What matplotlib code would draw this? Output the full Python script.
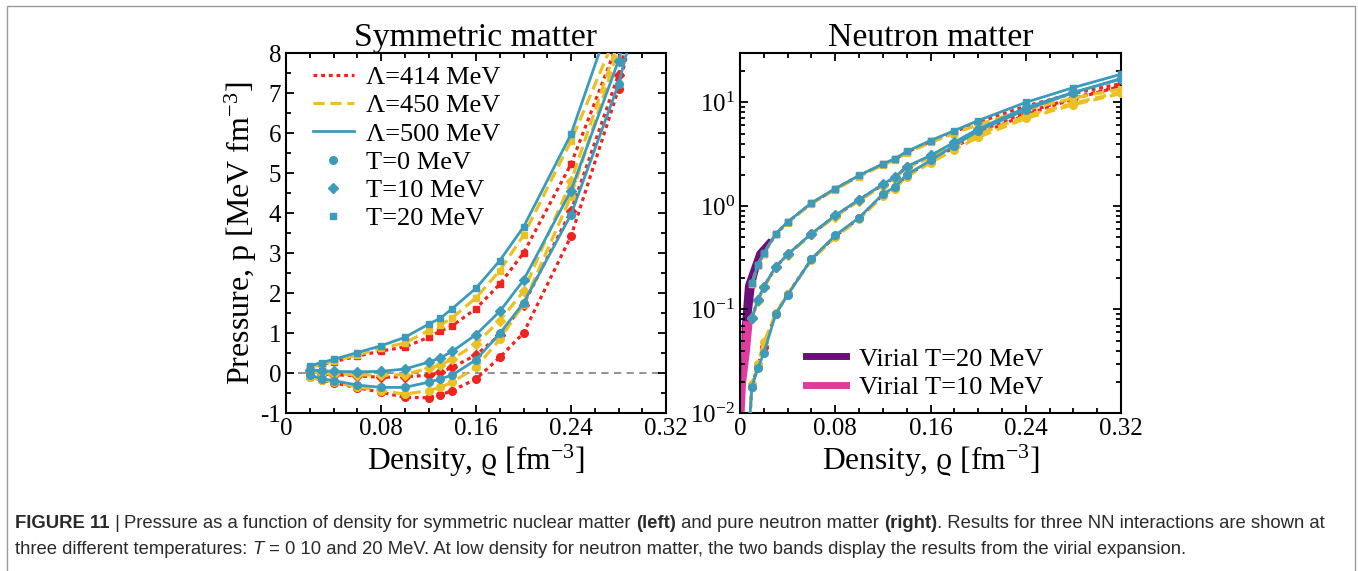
import matplotlib
matplotlib.use("Agg")
import matplotlib.pyplot as plt
from matplotlib.lines import Line2D
from matplotlib.patches import Rectangle
from matplotlib.ticker import MultipleLocator, LogLocator, NullFormatter
from matplotlib.transforms import IdentityTransform

# ---- symmetric matter: pressure [MeV fm^-3] vs density [fm^-3] ----
snm_rho = [0.02, 0.03, 0.04, 0.06, 0.08, 0.10, 0.12, 0.13, 0.14, 0.16, 0.18, 0.20, 0.24, 0.28, 0.30]
snm_t0_414 = [-0.10, -0.18, -0.24, -0.37, -0.48, -0.61, -0.62, -0.55, -0.44, -0.15, 0.39, 1.00, 3.42, 7.10, 9.6]
snm_t0_450 = [-0.10, -0.17, -0.22, -0.35, -0.44, -0.53, -0.44, -0.36, -0.23, 0.14, 0.84, 1.72, 4.42, 8.10, 10.4]
snm_t0_500 = [-0.05, -0.14, -0.19, -0.30, -0.36, -0.36, -0.23, -0.15, -0.05, 0.33, 0.99, 1.75, 3.96, 7.22, 9.5]
snm_t10_414 = [0.03, -0.02, -0.04, -0.07, -0.11, -0.09, -0.06, 0.02, 0.14, 0.45, 0.95, 1.71, 4.05, 7.46, 9.8]
snm_t10_450 = [0.04, 0.00, -0.02, -0.04, -0.06, -0.04, 0.12, 0.20, 0.35, 0.73, 1.31, 2.04, 4.79, 8.30, 10.6]
snm_t10_500 = [0.08, 0.06, 0.04, 0.03, 0.04, 0.10, 0.27, 0.38, 0.54, 0.96, 1.54, 2.32, 4.56, 7.81, 10.2]
snm_t20_414 = [0.13, 0.21, 0.28, 0.42, 0.55, 0.65, 0.89, 1.05, 1.18, 1.61, 2.22, 3.00, 5.22, 8.3, 10.8]
snm_t20_450 = [0.14, 0.22, 0.30, 0.45, 0.62, 0.75, 1.06, 1.20, 1.38, 1.88, 2.56, 3.44, 5.80, 8.6, 11.3]
snm_t20_500 = [0.18, 0.26, 0.34, 0.51, 0.68, 0.89, 1.22, 1.37, 1.61, 2.12, 2.81, 3.65, 5.97, 9.4, 12.0]

# ---- neutron matter ----
pnm_rho = [0.01, 0.015, 0.02, 0.03, 0.04, 0.06, 0.08, 0.10, 0.12, 0.13, 0.14, 0.16, 0.18, 0.20, 0.24, 0.28, 0.32]
pnm_t0_414 = [0.018, 0.029, 0.043, 0.091, 0.14, 0.305, 0.51, 0.76, 1.28, 1.50, 1.97, 2.7, 3.7, 4.9, 7.6, 10.8, 14.3]
pnm_t0_450 = [0.019, 0.030, 0.048, 0.092, 0.14, 0.30, 0.50, 0.74, 1.25, 1.47, 1.92, 2.6, 3.5, 4.6, 7.0, 9.5, 12.2]
pnm_t0_500 = [0.018, 0.027, 0.038, 0.090, 0.138, 0.307, 0.52, 0.77, 1.30, 1.52, 2.00, 2.75, 3.83, 5.30, 8.5, 12.4, 17.0]
pnm_t10_414 = [0.082, 0.123, 0.165, 0.257, 0.34, 0.535, 0.80, 1.14, 1.60, 1.88, 2.38, 3.02, 4.0, 5.2, 8.0, 11.0, 14.5]
pnm_t10_450 = [0.082, 0.122, 0.163, 0.255, 0.335, 0.53, 0.79, 1.12, 1.57, 1.84, 2.32, 2.95, 3.8, 4.9, 7.4, 9.8, 12.6]
pnm_t10_500 = [0.083, 0.124, 0.166, 0.259, 0.34, 0.54, 0.81, 1.15, 1.62, 1.90, 2.40, 3.07, 4.12, 5.54, 8.9, 12.5, 16.8]
pnm_t20_414 = [0.178, 0.269, 0.346, 0.537, 0.695, 1.06, 1.46, 1.95, 2.52, 2.81, 3.30, 4.2, 5.2, 6.4, 9.2, 12.2, 15.2]
pnm_t20_450 = [0.178, 0.268, 0.345, 0.535, 0.69, 1.05, 1.44, 1.92, 2.48, 2.76, 3.24, 4.1, 5.0, 6.1, 8.5, 11.0, 13.5]
pnm_t20_500 = [0.179, 0.27, 0.348, 0.54, 0.70, 1.07, 1.47, 1.97, 2.55, 2.85, 3.36, 4.28, 5.34, 6.67, 10.0, 13.9, 18.7]

# T=0 low-density tail (drops below the axis)
pnm_tail_rho = [0.008]
pnm_tail_p = [0.008]

# virial bands, outline of each band (rho, p)
vir20_rho = [0.0002, 0.0014, 0.0042, 0.014, 0.024, 0.0267, 0.0196, 0.0126, 0.0084, 0.005, 0.003]
vir20_p = [0.008, 0.066, 0.172, 0.36, 0.485, 0.47, 0.36, 0.172, 0.066, 0.025, 0.008]
vir10_rho = [0.0002, 0.0014, 0.0025, 0.0107, 0.0084, 0.005, 0.0034]
vir10_p = [0.008, 0.034, 0.077, 0.077, 0.04, 0.019, 0.008]

lambdas = ["414", "450", "500"]
temps = ["0", "10", "20"]
styles = {"414": dict(color="#EE2420", ls=(0, (1.2, 1.2)), lw=2.3),
          "450": dict(color="#E9C124", ls=(0, (3.5, 1.8)), lw=2.3),
          "500": dict(color="#3C9BBA", ls="-", lw=2.0)}
markers = {"0": ("o", 5.5), "10": ("D", 5.0), "20": ("s", 5.0)}

snm = {("0", "414"): snm_t0_414, ("0", "450"): snm_t0_450, ("0", "500"): snm_t0_500,
       ("10", "414"): snm_t10_414, ("10", "450"): snm_t10_450, ("10", "500"): snm_t10_500,
       ("20", "414"): snm_t20_414, ("20", "450"): snm_t20_450, ("20", "500"): snm_t20_500}
pnm = {("0", "414"): pnm_t0_414, ("0", "450"): pnm_t0_450, ("0", "500"): pnm_t0_500,
       ("10", "414"): pnm_t10_414, ("10", "450"): pnm_t10_450, ("10", "500"): pnm_t10_500,
       ("20", "414"): pnm_t20_414, ("20", "450"): pnm_t20_450, ("20", "500"): pnm_t20_500}

SERIF = ["Liberation Serif", "DejaVu Serif"]
plt.rcParams.update({
    "font.family": SERIF,
    "mathtext.fontset": "custom",
    "mathtext.rm": "Liberation Serif",
    "mathtext.it": "Liberation Serif:italic",
    "mathtext.default": "regular",
    "axes.unicode_minus": False,
    "axes.linewidth": 1.5,
    "xtick.direction": "in", "ytick.direction": "in",
    "xtick.top": True, "ytick.right": True,
    "xtick.major.size": 6, "ytick.major.size": 6,
    "xtick.minor.size": 3.5, "ytick.minor.size": 3.5,
    "xtick.major.width": 1.3, "ytick.major.width": 1.3,
    "xtick.minor.width": 1.3, "ytick.minor.width": 1.3,
    "xtick.labelsize": 18, "ytick.labelsize": 18,
})

fig = plt.figure(figsize=(13.58, 5.71), dpi=100)
axL = fig.add_axes([286 / 1358, 1 - 413 / 571, 380 / 1358, 360 / 571])
axR = fig.add_axes([740 / 1358, 1 - 413 / 571, 381 / 1358, 360 / 571])

# ---- left panel ----
axL.hlines(0, 0.01, 0.32, color="#8a8a8a", lw=1.3, ls=(0, (4, 3)), zorder=1)
for T in temps:
    for L in lambdas:
        m, ms = markers[T]
        axL.plot(snm_rho, snm[(T, L)], marker=m, ms=ms, zorder=2 + lambdas.index(L), **styles[L])
axL.set_xlim(0, 0.32)
axL.set_ylim(-1, 8)
axL.xaxis.set_major_locator(MultipleLocator(0.08))
axL.xaxis.set_minor_locator(MultipleLocator(0.02))
axL.yaxis.set_major_locator(MultipleLocator(1))
axL.yaxis.set_minor_locator(MultipleLocator(0.5))
axL.set_xticks([0, 0.08, 0.16, 0.24, 0.32])
axL.set_xticklabels(["0", "0.08", "0.16", "0.24", "0.32"])
axL.set_title("Symmetric matter", fontsize=24.3, pad=4)
axL.set_xlabel("Density, ϱ [fm$^{-3}$]", fontsize=22.7, labelpad=2)
axL.set_ylabel("Pressure, p [MeV fm$^{-3}$]", fontsize=23)
axL.yaxis.set_label_coords(-0.072, 0.5)

hL = [Line2D([], [], label="Λ=%s MeV" % L, **styles[L]) for L in lambdas]
hL += [Line2D([], [], ls="none", marker=markers[T][0], ms=markers[T][1],
              color=styles["500"]["color"], label="T=%s MeV" % T) for T in temps]
axL.legend(handles=hL, loc="upper left", bbox_to_anchor=(0.022, 1.016), frameon=False,
           fontsize=19, handlelength=1.55, handletextpad=0.45, labelspacing=0.18,
           borderaxespad=0.3)

# ---- right panel ----
axR.fill(vir20_rho, vir20_p, color="#6C0F7B", lw=0, zorder=1)
axR.fill(vir10_rho, vir10_p, color="#E03C9E", lw=0, zorder=1)
for T in temps:
    for L in lambdas:
        m, ms = markers[T]
        xs, ys = pnm_rho, pnm[(T, L)]
        if T == "0":
            xs, ys = pnm_tail_rho + xs, pnm_tail_p + ys
        axR.plot(xs, ys, marker=m, ms=ms, zorder=2 + lambdas.index(L), **styles[L])
axR.set_yscale("log")
axR.set_xlim(0, 0.32)
axR.set_ylim(0.01, 30)
axR.xaxis.set_major_locator(MultipleLocator(0.08))
axR.xaxis.set_minor_locator(MultipleLocator(0.02))
axR.set_xticks([0, 0.08, 0.16, 0.24, 0.32])
axR.set_xticklabels(["0", "0.08", "0.16", "0.24", "0.32"])
axR.yaxis.set_major_locator(LogLocator(base=10, numticks=10))
axR.yaxis.set_minor_locator(LogLocator(base=10, subs=range(2, 10), numticks=20))
axR.yaxis.set_minor_formatter(NullFormatter())
axR.set_title("Neutron matter", fontsize=24.3, pad=4)
axR.set_xlabel("Density, ϱ [fm$^{-3}$]", fontsize=22.7, labelpad=2)

hR = [Line2D([], [], color="#6C0F7B", lw=5, label="Virial T=20 MeV"),
      Line2D([], [], color="#E03C9E", lw=5, label="Virial T=10 MeV")]
axR.legend(handles=hR, loc="lower left", bbox_to_anchor=(0.125, -0.012), frameon=False,
           fontsize=19, handlelength=1.5, handletextpad=0.5, labelspacing=0.18,
           borderaxespad=0.3)

# ---- outer frame and caption ----
fig.patches.append(Rectangle((7 / 1358, -0.05), 1348 / 1358, 1 - 6 / 571 + 0.05,
                             transform=fig.transFigure, fill=False, ec="#9a9a9a", lw=1.0))

CAP = ["Liberation Sans", "DejaVu Sans"]
line1 = [("FIGURE 11", "bold", "normal"), (" | ", "normal", "normal"),
         ("Pressure as a function of density for symmetric nuclear matter ", "normal", "normal"),
         ("(left)", "bold", "normal"), (" and pure neutron matter ", "normal", "normal"),
         ("(right)", "bold", "normal"),
         (". Results for three NN interactions are shown at", "normal", "normal")]
line2 = [("three different temperatures: ", "normal", "normal"), ("T", "normal", "italic"),
         (" = 0 10 and 20 MeV. At low density for neutron matter, the two bands display the results from the virial expansion.",
          "normal", "normal")]

renderer = fig.canvas.get_renderer()


def draw_runs(parts, x0, y0, size):
    x = x0
    arts = []
    for s, w, st in parts:
        t = fig.text(x, y0, s, transform=IdentityTransform(), fontsize=size, family=CAP,
                     weight=w, style=st, color="#2a2a2a", va="baseline")
        arts.append(t)
        x += t.get_window_extent(renderer).width
    return x - x0, arts


w, arts = draw_runs(line1, 15, 571 - 528, 12.0)
for a in arts:
    a.remove()
size = 12.0 * 1316 / w
draw_runs(line1, 15, 571 - 528, size)
draw_runs(line2, 15, 571 - 554, size)

fig.savefig("out.png", dpi=100)
